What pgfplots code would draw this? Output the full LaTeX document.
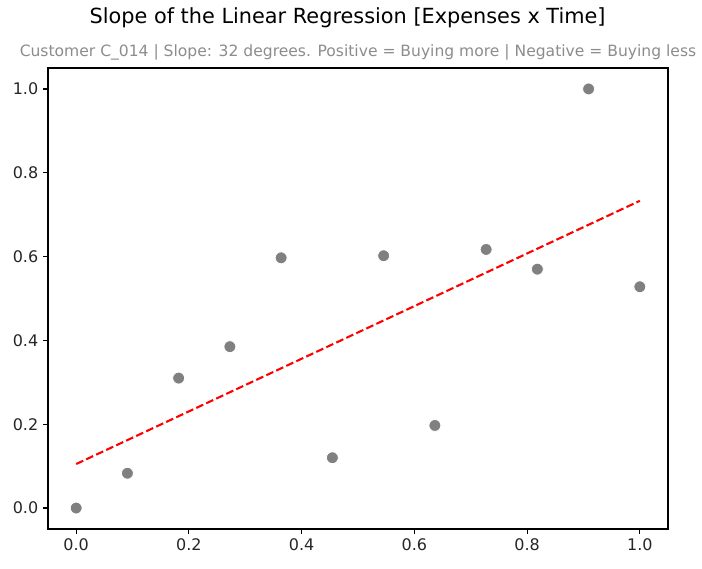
\documentclass[border=0pt]{standalone}
\usepackage{pgfplots}
\pgfplotsset{compat=1.18}
\usepackage{fontspec}
\setmainfont{DejaVu Sans}
\definecolor{ptgray}{HTML}{808080}
\definecolor{subgray}{HTML}{8C8C8C}
\begin{document}
\begin{tikzpicture}
\begin{axis}[
  name=ax,
  scale only axis,
  width=446.4pt, height=331.9pt,
  xmin=-0.05, xmax=1.05, ymin=-0.05, ymax=1.05,
  xtick={0,0.2,0.4,0.6,0.8,1.0},
  ytick={0,0.2,0.4,0.6,0.8,1.0},
  xticklabel style={/pgf/number format/.cd,fixed,fixed zerofill,precision=1},
  yticklabel style={/pgf/number format/.cd,fixed,fixed zerofill,precision=1},
  /pgf/number format/assume math mode=true,
  tick label style={font=\fontsize{11.5}{13}\selectfont, text=black!85},
  xtick pos=bottom, ytick pos=left,
  tick align=outside,
  major tick length=3.5pt,
  every tick/.style={black, line width=0.8pt},
  axis line style={black, line width=0.8pt},
  clip=false,
]
\addplot[only marks, mark=*, mark size=4.3pt, mark options={fill=ptgray, draw=white, line width=0.6pt}]
coordinates {
(0.0000,0.000)
(0.0909,0.083)
(0.1818,0.310)
(0.2727,0.385)
(0.3636,0.597)
(0.4545,0.120)
(0.5455,0.602)
(0.6364,0.197)
(0.7273,0.617)
(0.8182,0.570)
(0.9091,1.000)
(1.0000,0.528)
};
\addplot[red, line width=1.5pt, dash pattern=on 5.55pt off 2.4pt]
coordinates {(0,0.105) (1,0.733)};
\end{axis}
\node[text=subgray, font=\fontsize{11.2}{13}\selectfont, anchor=center] at ([yshift=11.5pt]ax.north) {Customer C\_014 | Slope: 32 degrees. Positive = Buying more | Negative = Buying less};
\node[text=black, font=\fontsize{15}{17}\selectfont, anchor=center] at ([yshift=36pt, xshift=-7.5pt]ax.north) {Slope of the Linear Regression [Expenses x Time]};
\path ([xshift=-34.56pt, yshift=-28.8pt]ax.south west) rectangle ([xshift=24.48pt, yshift=48.96pt]ax.north east);
\end{tikzpicture}
\end{document}
